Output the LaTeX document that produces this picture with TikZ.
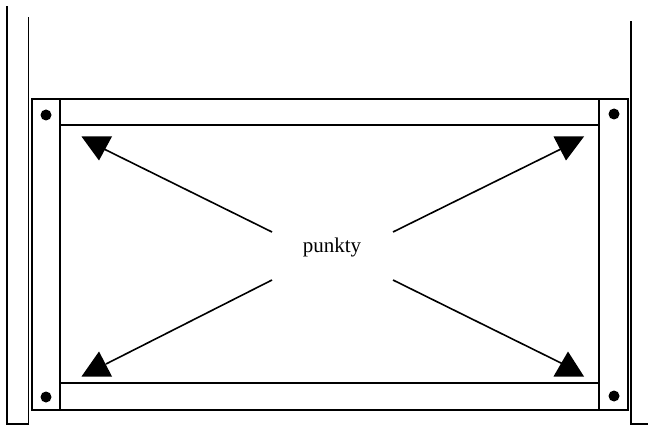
\documentclass[tikz,border=0pt]{standalone}
\usepackage{fontspec}
\setmainfont{Liberation Serif}
\begin{document}
\begin{tikzpicture}[x=1pt,y=-1pt,
  ln/.style={line width=1.6pt,line cap=rect},
  thin/.style={line width=1.6pt},
  head/.style={fill=black,draw=none},
  dot/.style={circle,fill=black,inner sep=0pt,minimum size=11pt}]
\useasboundingbox (0,0) rectangle (648,425);
% posts
\draw[ln] (7,7) -- (7,424) -- (28.5,424) -- (28.5,18);
\draw[ln] (631,22) -- (631,424) -- (650,424);
% frame
\draw[ln] (32,99) rectangle (628,410);
\draw[ln] (60,99) -- (60,410);
\draw[ln] (599,99) -- (599,410);
\draw[ln] (60,125) -- (599,125);
\draw[ln] (60,383) -- (599,383);
% bolts
\node[dot] (d1) at (46,115) {};
\node[dot] (d2) at (614,114) {};
\node[dot] (d3) at (46,397) {};
\node[dot] (d4) at (614,396) {};
% label
\node[font=\fontsize{21}{25}\selectfont] (c) at (332,247) {punkty};
% arrows
\coordinate (s1) at (272,232); \coordinate (e1) at (104,149);
\coordinate (s2) at (393,232); \coordinate (e2) at (561,149);
\coordinate (s3) at (272,280); \coordinate (e3) at (106,364);
\coordinate (s4) at (393,280); \coordinate (e4) at (563,364);
\draw[thin] (s1) -- (e1);
\draw[thin] (s2) -- (e2);
\draw[thin] (s3) -- (e3);
\draw[thin] (s4) -- (e4);
\fill[head] (81.5,136.5) -- (112,136.5) -- (99,160.5) -- cycle;
\fill[head] (553.5,136.5) -- (584,136.5) -- (566,160.5) -- cycle;
\fill[head] (81.5,376.5) -- (112,376.5) -- (99,351.5) -- cycle;
\fill[head] (553.5,376.5) -- (584,376.5) -- (568,351.5) -- cycle;
\end{tikzpicture}
\end{document}
